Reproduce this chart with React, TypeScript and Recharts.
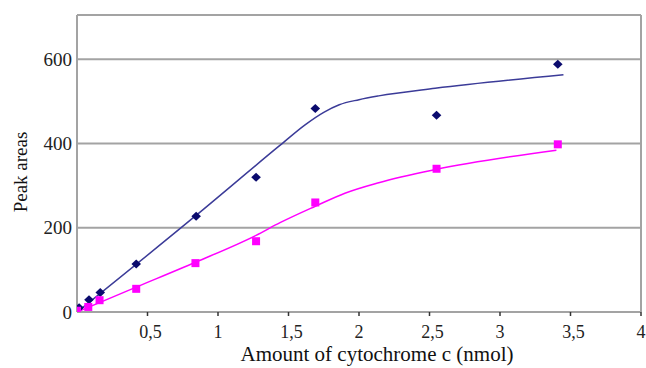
import React from 'react';
import { ComposedChart, XAxis, YAxis, CartesianGrid, Scatter, Line, ReferenceLine } from 'recharts';

const xTicks = [0.5, 1, 1.5, 2, 2.5, 3, 3.5, 4];
const yTicks = [0, 200, 400, 600];

const blueX = [0.015, 0.085, 0.165, 0.42, 0.845, 1.27, 1.69, 2.55, 3.41];
const blueY = [10, 29, 46, 114, 227, 320, 483, 467, 588];
const pinkX = [0, 0.08, 0.16, 0.42, 0.84, 1.27, 1.69, 2.55, 3.41];
const pinkY = [3, 12, 28, 55, 116, 168, 260, 340, 398];

const blueTrendX = [0.02, 0.84, 1.43, 1.62, 1.75, 1.86, 2.0, 2.14, 2.54, 3.45];
const blueTrendY = [5, 228, 393, 445, 474, 492, 504, 513, 531, 563];
const pinkTrendX = [0, 0.42, 0.84, 1.27, 1.44, 1.69, 1.9, 2.14, 2.54, 3.4];
const pinkTrendY = [0, 59, 118, 182, 212, 251, 282, 307, 338, 384];

const zip = (xs: number[], ys: number[]) => xs.map((x, i) => ({ x, y: ys[i] }));
const blueData = zip(blueX, blueY);
const pinkData = zip(pinkX, pinkY);
const blueTrend = zip(blueTrendX, blueTrendY);
const pinkTrend = zip(pinkTrendX, pinkTrendY);

const FONT = "'Liberation Serif', 'DejaVu Serif', serif";
const GRID = '#a3a3a3';

const Diamond = (props: any) => {
  const { cx, cy } = props;
  if (cx == null || cy == null) return null;
  const w = 4.8, h = 4.5;
  return <path d={`M${cx},${cy - h}L${cx + w},${cy}L${cx},${cy + h}L${cx - w},${cy}Z`} fill="#0b0b6e" />;
};

const Square = (props: any) => {
  const { cx, cy } = props;
  if (cx == null || cy == null) return null;
  const s = 4;
  return <rect x={cx - s} y={cy - s} width={2 * s} height={2 * s} fill="#ff00ff" />;
};

const XTick = (props: any) => {
  const { x, y, payload } = props;
  const label = String(payload.value).replace('.', ',');
  const shift = label.includes(',') ? 3 : 0;
  return (
    <text x={x + shift} y={y} dy="0.71em" textAnchor="middle" style={{ fontFamily: FONT }} fontSize={18} fill="#222">
      {label}
    </text>
  );
};

const YTick = (props: any) => {
  const { x, y, payload } = props;
  return (
    <text x={x} y={y} dy="0.355em" textAnchor="end" style={{ fontFamily: FONT }} fontSize={19} fill="#222">
      {payload.value}
    </text>
  );
};

export default function App() {
  return (
    <div style={{ position: 'absolute', left: 0, top: 0, background: '#fff', fontFamily: FONT }}>
      <ComposedChart
        width={646}
        height={368}
        margin={{ top: 15, right: 5, bottom: 0, left: 0 }}
      >
        <CartesianGrid horizontal vertical={false} stroke={GRID} strokeWidth={2} />
        <XAxis
          type="number"
          dataKey="x"
          domain={[0, 4]}
          ticks={xTicks}
          height={56}
          stroke={GRID}
          strokeWidth={2}
          tickSize={4}
          tickMargin={9}
          tickLine={{ stroke: '#333', strokeWidth: 1.5 }}
          tick={<XTick />}
          allowDataOverflow
          label={{
            content: () => (
              <text x={377} y={361} textAnchor="middle" style={{ fontFamily: FONT }} fontSize={21} fill="#111">
                Amount of cytochrome c (nmol)
              </text>
            ),
          }}
        />
        <YAxis
          type="number"
          dataKey="y"
          domain={[0, 705]}
          ticks={yTicks}
          width={77}
          stroke={GRID}
          strokeWidth={2}
          tickLine={false}
          tickSize={0}
          tickMargin={5}
          tick={<YTick />}
          allowDataOverflow
          label={{
            content: () => (
              <text
                x={27}
                y={172}
                transform="rotate(-90 27 172)"
                textAnchor="middle"
                style={{ fontFamily: FONT }}
                fontSize={19}
                fill="#111"
              >
                Peak areas
              </text>
            ),
          }}
        />
        <ReferenceLine y={705} stroke={GRID} strokeWidth={2} />
        <ReferenceLine x={4} stroke={GRID} strokeWidth={2} />
        <Line
          data={blueTrend}
          dataKey="y"
          type="monotone"
          stroke="#3b3b98"
          strokeWidth={1.5}
          dot={false}
          activeDot={false}
          isAnimationActive={false}
        />
        <Line
          data={pinkTrend}
          dataKey="y"
          type="monotone"
          stroke="#ff00ff"
          strokeWidth={1.5}
          dot={false}
          activeDot={false}
          isAnimationActive={false}
        />
        <Scatter data={blueData} dataKey="y" shape={<Diamond />} isAnimationActive={false} />
        <Scatter data={pinkData} dataKey="y" shape={<Square />} isAnimationActive={false} />
      </ComposedChart>
    </div>
  );
}
